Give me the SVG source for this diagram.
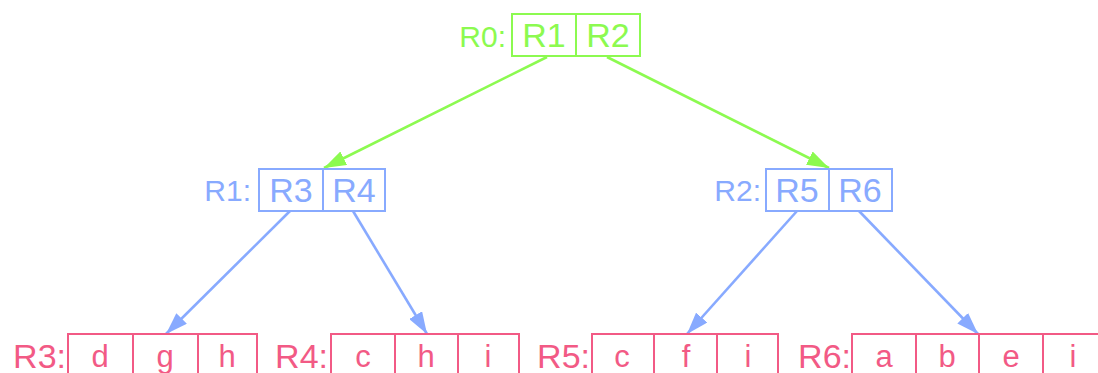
<svg xmlns="http://www.w3.org/2000/svg" width="1098" height="373" viewBox="0 0 1098 373">
<style>
text{font-family:"Liberation Sans",Arial,sans-serif}
.g{fill:#8cfa50}.b{fill:#88aaff}.p{fill:#f25a85}
.gs{fill:none;stroke:#8cfa50;stroke-width:2}
.bs{fill:none;stroke:#88aaff;stroke-width:2}
.ps{fill:none;stroke:#f25a85;stroke-width:2}
.e{stroke-width:2.6}
.lbl{font-size:30px;text-anchor:end}
.lblb{font-size:34px;text-anchor:end}
.cell{font-size:34px;text-anchor:middle}
.cellb{font-size:31px;text-anchor:middle}
</style>
<defs>
<marker id="ag" markerUnits="userSpaceOnUse" markerWidth="22" markerHeight="15" refX="22" refY="7.5" orient="auto"><path d="M0,0 L22,7.5 L0,15 z" fill="#8cfa50"/></marker>
<marker id="ab" markerUnits="userSpaceOnUse" markerWidth="22" markerHeight="15" refX="22" refY="7.5" orient="auto"><path d="M0,0 L22,7.5 L0,15 z" fill="#88aaff"/></marker>
</defs>
<g id="connectors">
<line class="gs e" x1="547" y1="57" x2="324" y2="168" marker-end="url(#ag)"/>
<line class="gs e" x1="607" y1="57" x2="829" y2="168" marker-end="url(#ag)"/>
<line class="bs e" x1="290" y1="211" x2="166" y2="334" marker-end="url(#ab)"/>
<line class="bs e" x1="353" y1="211" x2="427" y2="334" marker-end="url(#ab)"/>
<line class="bs e" x1="797" y1="211" x2="687" y2="334" marker-end="url(#ab)"/>
<line class="bs e" x1="859" y1="211" x2="978" y2="334" marker-end="url(#ab)"/>
</g>
<g id="R0">
<text class="lbl g" x="506" y="47">R0:</text>
<rect class="gs" x="512" y="14" width="128" height="42"/>
<line class="gs" x1="576" y1="14" x2="576" y2="56"/>
<text class="cell g" x="544" y="47">R1</text>
<text class="cell g" x="608" y="47">R2</text>
</g>
<g id="R1">
<text class="lbl b" x="251" y="201">R1:</text>
<rect class="bs" x="259" y="169" width="126" height="42"/>
<line class="bs" x1="323" y1="169" x2="323" y2="211"/>
<text class="cell b" x="291" y="202">R3</text>
<text class="cell b" x="354" y="202">R4</text>
</g>
<g id="R2">
<text class="lbl b" x="761" y="201">R2:</text>
<rect class="bs" x="766" y="169" width="126" height="42"/>
<line class="bs" x1="829" y1="169" x2="829" y2="211"/>
<text class="cell b" x="797" y="202">R5</text>
<text class="cell b" x="860" y="202">R6</text>
</g>
<g id="R3">
<text class="lblb p" x="66" y="368">R3:</text>
<path class="ps" d="M68,380 V334 H257 V380 M133,334 V380 M198,334 V380"/>
<text class="cellb p" x="100" y="367">d</text>
<text class="cellb p" x="165" y="367">g</text>
<text class="cellb p" x="227" y="367">h</text>
</g>
<g id="R4">
<text class="lblb p" x="328" y="368">R4:</text>
<path class="ps" d="M331,380 V334 H519 V380 M395,334 V380 M458,334 V380"/>
<text class="cellb p" x="363" y="367">c</text>
<text class="cellb p" x="426" y="367">h</text>
<text class="cellb p" x="488" y="367">i</text>
</g>
<g id="R5">
<text class="lblb p" x="590" y="368">R5:</text>
<path class="ps" d="M592,380 V334 H778 V380 M654,334 V380 M717,334 V380"/>
<text class="cellb p" x="622" y="367">c</text>
<text class="cellb p" x="686" y="367">f</text>
<text class="cellb p" x="748" y="367">i</text>
</g>
<g id="R6">
<text class="lblb p" x="851" y="368">R6:</text>
<path class="ps" d="M852,380 V334 H1104 M916,334 V380 M979,334 V380 M1043,334 V380"/>
<text class="cellb p" x="884" y="367">a</text>
<text class="cellb p" x="947" y="367">b</text>
<text class="cellb p" x="1011" y="367">e</text>
<text class="cellb p" x="1073" y="367">i</text>
</g>
</svg>
